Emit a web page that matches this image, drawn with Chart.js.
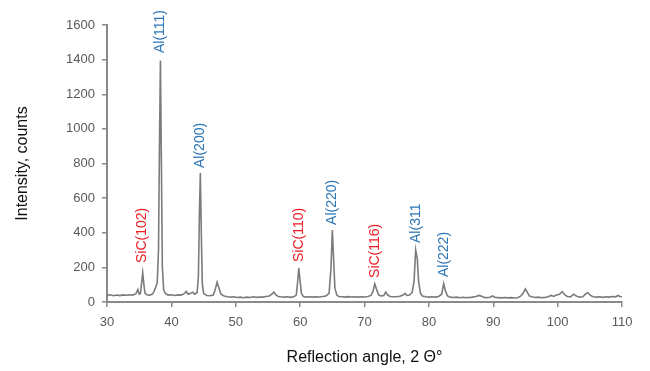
<!DOCTYPE html>
<html>
<head>
<meta charset="utf-8">
<script src="https://cdn.jsdelivr.net/npm/chart.js@4/dist/chart.umd.min.js"></script>
<style>
html,body{margin:0;padding:0;background:#fff;}
#wrap{width:650px;height:371px;}
</style>
</head>
<body>
<div id="wrap"><canvas id="c" width="650" height="371"></canvas></div>
<script>
// Diffraction angle (2θ, degrees)
const angles = [
30,30.5,31,31.5,32,32.5,33,33.5,34,34.5,34.8,35.0,35.2,35.4,35.55,35.7,35.9,36.2,36.6,37.0,37.3,37.6,37.8,38.0,38.15,38.3,38.45,38.6,38.8,39.1,39.5,
40,40.5,41,41.5,42,42.3,42.6,43.0,43.3,43.6,44.0,44.2,44.35,44.5,44.65,44.8,45.0,45.5,46,46.5,46.8,47.1,47.4,47.7,48.2,48.7,49.2,49.7,
50.2,50.7,51.2,51.7,52.2,52.7,53.2,53.7,54.2,54.7,55.2,55.6,55.9,56.2,56.6,57.0,57.5,58.0,58.5,59.0,59.4,59.6,59.8,60.0,60.2,60.5,
61.0,61.5,62,62.5,63,63.5,64.0,64.5,64.8,65.0,65.2,65.4,65.7,66.0,66.5,67,67.5,68,68.5,69,69.5,70,70.5,71.0,71.3,71.6,71.9,72.2,72.6,
73.0,73.3,73.6,74.0,74.5,75,75.5,76,76.3,76.6,77.0,77.4,77.7,77.95,78.2,78.4,78.7,79.0,79.5,80,80.5,81,81.5,82.0,82.3,82.6,82.9,
83.3,83.8,84.3,84.8,85.3,85.8,86.3,86.8,87.3,87.8,88.2,88.6,89.0,89.5,89.9,90.3,90.8,91.3,91.8,92.3,92.8,93.3,93.8,94.3,94.7,95.0,
95.3,95.6,96.0,96.5,97,97.5,98,98.5,99.0,99.4,99.8,100.3,100.7,101.1,101.5,102.0,102.5,102.9,103.4,103.9,104.4,104.7,105.1,105.5,
106,106.5,107,107.5,108,108.5,109,109.4,109.7,110
];
// Intensity (counts)
const intensity = [
38,42,36,40,37,41,39,42,40,48,72,45,50,120,168,110,50,42,40,44,60,90,110,300,900,1395,800,200,70,48,40,
42,38,41,40,48,62,45,50,56,45,55,150,500,745,400,110,50,38,36,40,70,115,80,45,35,30,28,30,
26,28,25,28,26,30,27,29,28,32,35,45,58,42,32,30,28,30,27,30,40,110,196,120,50,32,
28,30,28,30,29,32,35,50,200,416,250,80,40,32,30,28,31,29,30,28,30,29,32,38,60,105,70,40,35,
38,58,40,32,30,31,33,40,50,38,40,55,120,300,250,120,50,35,30,28,30,28,32,45,106,60,35,
28,26,28,25,27,25,26,28,32,38,33,26,25,27,35,26,25,24,26,24,25,23,25,35,55,76,
55,35,30,26,28,25,26,30,38,32,40,45,60,42,32,30,45,35,28,30,48,54,38,30,
28,30,27,30,28,32,30,38,32,30
];
// Peak annotations
const peakNames  = ["SiC(102)","Al(111)","Al(200)","SiC(110)","Al(220)","SiC(116)","Al(311","Al(222)"];
const peakAngles = [35.5, 38.3, 44.5, 59.8, 65.0, 71.6, 78.0, 82.4];
const peakLabelBase = [225, 1438, 774, 231, 445, 139, 341, 144];
const peakPhase = ["SiC","Al","Al","SiC","Al","SiC","Al","Al"];
// Axis ticks
const xTicks = [30,40,50,60,70,80,90,100,110];
const yTicks = [0,200,400,600,800,1000,1200,1400,1600];

const phaseColor = {SiC:'#ee1c25', Al:'#2e75b6'};
const points = angles.map((a,i)=>({x:a, y:intensity[i]}));
const axisColor = '#8a8a8a';
const font = "'Liberation Sans', Arial, sans-serif";

const peakLabelPlugin = {
  id:'peakLabels',
  afterDatasetsDraw(chart){
    const {ctx, scales:{x,y}} = chart;
    ctx.save();
    ctx.font = "14px " + font;
    ctx.textAlign = 'left';
    ctx.textBaseline = 'middle';
    peakNames.forEach((n,i)=>{
      const px = x.getPixelForValue(peakAngles[i]);
      const py = y.getPixelForValue(peakLabelBase[i]);
      ctx.save();
      ctx.translate(px, py);
      ctx.rotate(-Math.PI/2);
      ctx.fillStyle = phaseColor[peakPhase[i]];
      ctx.fillText(n, 0, 0);
      ctx.restore();
    });
    ctx.restore();
  }
};

new Chart(document.getElementById('c'), {
  type:'line',
  data:{datasets:[{data:points, borderColor:'#7b7b7b', borderWidth:1.6, pointRadius:0, tension:0, fill:false}]},
  options:{
    responsive:false, animation:false,
    layout:{padding:{left:0,right:28,top:25,bottom:0}},
    plugins:{legend:{display:false}, tooltip:{enabled:false}},
    scales:{
      x:{type:'linear', min:30, max:110,
        afterFit:s=>{s.height=69;},
        afterBuildTicks:s=>{s.ticks = xTicks.map(v=>({value:v}));},
        grid:{display:true, drawOnChartArea:false, drawTicks:true, tickLength:5, color:axisColor, lineWidth:1.5},
        border:{display:true, color:axisColor, width:2},
        ticks:{color:'#595959', font:{family:font, size:13}, padding:8, maxRotation:0, callback:v=>String(v)},
        title:{display:true, text:'Reflection angle, 2 \u0398\u00b0', color:'#111', font:{family:font, size:16}, padding:{bottom:4, top:0}}
      },
      y:{min:0, max:1600,
        afterFit:s=>{s.width=107;},
        afterBuildTicks:s=>{s.ticks = yTicks.map(v=>({value:v}));},
        grid:{display:true, drawOnChartArea:false, drawTicks:true, tickLength:5, color:axisColor, lineWidth:1.5},
        border:{display:true, color:axisColor, width:2},
        ticks:{color:'#595959', font:{family:font, size:13}, padding:7, callback:v=>String(v)},
        title:{display:true, text:'Intensity, counts', color:'#111', font:{family:font, size:16}, padding:{top:13, bottom:0}}
      }
    }
  },
  plugins:[peakLabelPlugin]
});
</script>
</body>
</html>
